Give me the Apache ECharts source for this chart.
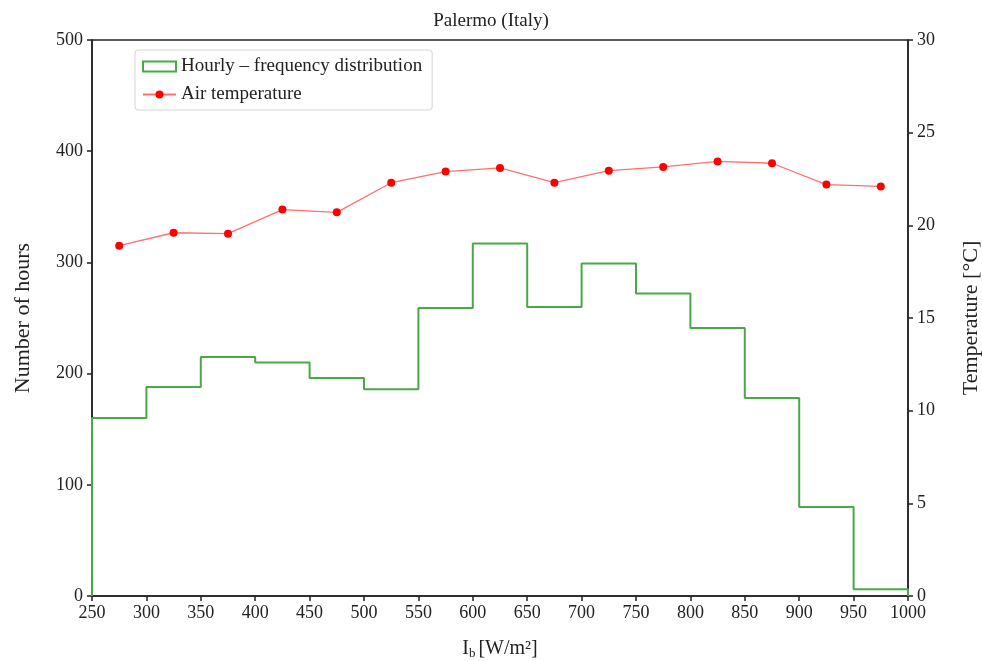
<!DOCTYPE html>
<html>
<head>
<meta charset="utf-8">
<script src="https://cdn.jsdelivr.net/npm/echarts@6/dist/echarts.min.js"></script>
<style>
  html, body { margin: 0; padding: 0; background: #fff; }
  #main { width: 982px; height: 661px; }
</style>
</head>
<body>
<div id="main"></div>
<script>
// bin edges and hourly counts (histogram)
var binEdges = [250, 300, 350, 400, 450, 500, 550, 600, 650, 700, 750, 800, 850, 900, 950, 1000];
var hours = [160, 188, 215, 210, 196, 186, 259, 317, 260, 299, 272, 241, 178, 80, 6];
// bin centres and mean air temperature
var binCentres = [275, 325, 375, 425, 475, 525, 575, 625, 675, 725, 775, 825, 875, 925, 975];
var temperature = [18.9, 19.6, 19.55, 20.85, 20.7, 22.3, 22.9, 23.1, 22.3, 22.95, 23.15, 23.45, 23.35, 22.2, 22.1];

var font = '"Liberation Serif", "DejaVu Serif", serif';
var green = '#4aa84a';

// step line points built from the bin edges
var stepData = [[binEdges[0], 0]];
for (var i = 0; i < hours.length; i++) {
  stepData.push([binEdges[i], hours[i]]);
}
stepData.push([binEdges[binEdges.length - 1], hours[hours.length - 1]]);
stepData.push([binEdges[binEdges.length - 1], 0]);

var tempData = binCentres.map(function (x, i) { return [x, temperature[i]]; });

var plain = function (v) { return String(v); };

var chart = echarts.init(document.getElementById('main'));
var option = {
  animation: false,
  backgroundColor: '#fff',
  textStyle: { fontFamily: font, color: '#222' },
  title: {
    text: 'Palermo (Italy)',
    left: 'center',
    top: 7,
    textStyle: { fontFamily: font, fontSize: 19, fontWeight: 'normal', color: '#222' }
  },
  legend: {
    orient: 'vertical',
    left: 135,
    top: 50,
    padding: [7, 10, 6, 7],
    itemGap: 9,
    itemWidth: 33,
    itemHeight: 10,
    borderColor: '#d4d4d4',
    borderWidth: 1,
    borderRadius: 3,
    textStyle: { fontFamily: font, fontSize: 19, color: '#222' },
    data: [
      { name: 'Hourly – frequency distribution', icon: 'rect',
        itemStyle: { color: 'rgba(0,0,0,0)', borderColor: green, borderWidth: 2 } },
      { name: 'Air temperature' }
    ]
  },
  grid: {
    left: 92, right: 74, top: 40, bottom: 65,
    outerBoundsMode: 'none',
    containLabel: false,
    show: true, borderColor: '#222', borderWidth: 1.5
  },
  xAxis: {
    type: 'value',
    min: 250, max: 1000, interval: 50,
    name: '{i|I}{s|b} {i|[W/m²]}',
    nameLocation: 'middle',
    nameGap: 42,
    nameTextStyle: {
      rich: {
        i: { fontFamily: font, fontSize: 20, color: '#222' },
        s: { fontFamily: font, fontSize: 13, color: '#222', verticalAlign: 'bottom', padding: [9, 0, 0, 0] }
      }
    },
    splitLine: { show: false },
    axisLine: { lineStyle: { color: '#222', width: 1.5 } },
    axisTick: { length: 5, lineStyle: { color: '#222', width: 1.5 } },
    axisLabel: { fontFamily: font, fontSize: 18, color: '#222', margin: 8, formatter: plain }
  },
  yAxis: [
    {
      type: 'value',
      min: 0, max: 500, interval: 100,
      name: 'Number of hours',
      nameLocation: 'middle',
      nameGap: 58,
      nameTextStyle: { fontFamily: font, fontSize: 22, color: '#222' },
      splitLine: { show: false },
      axisLine: { show: true, lineStyle: { color: '#222', width: 1.5 } },
      axisTick: { show: true, length: 5, lineStyle: { color: '#222', width: 1.5 } },
      axisLabel: { fontFamily: font, fontSize: 18, color: '#222', margin: 9, formatter: plain }
    },
    {
      type: 'value',
      min: 0, max: 30, interval: 5,
      name: 'Temperature [°C]',
      nameLocation: 'middle',
      nameGap: 52,
      nameTextStyle: { fontFamily: font, fontSize: 22, color: '#222' },
      splitLine: { show: false },
      axisLine: { show: true, lineStyle: { color: '#222', width: 1.5 } },
      axisTick: { show: true, length: 5, lineStyle: { color: '#222', width: 1.5 } },
      axisLabel: { fontFamily: font, fontSize: 18, color: '#222', margin: 9, formatter: plain }
    }
  ],
  series: [
    {
      name: 'Hourly – frequency distribution',
      type: 'line',
      step: 'end',
      yAxisIndex: 0,
      showSymbol: false,
      symbol: 'none',
      data: stepData,
      color: green,
      lineStyle: { color: green, width: 2 }
    },
    {
      name: 'Air temperature',
      type: 'line',
      yAxisIndex: 1,
      data: tempData,
      symbol: 'circle',
      symbolSize: 8,
      color: '#ff0000',
      itemStyle: { color: '#ff0000' },
      lineStyle: { color: '#ff7070', width: 1.3 }
    }
  ]
};
chart.setOption(option);
</script>
</body>
</html>
